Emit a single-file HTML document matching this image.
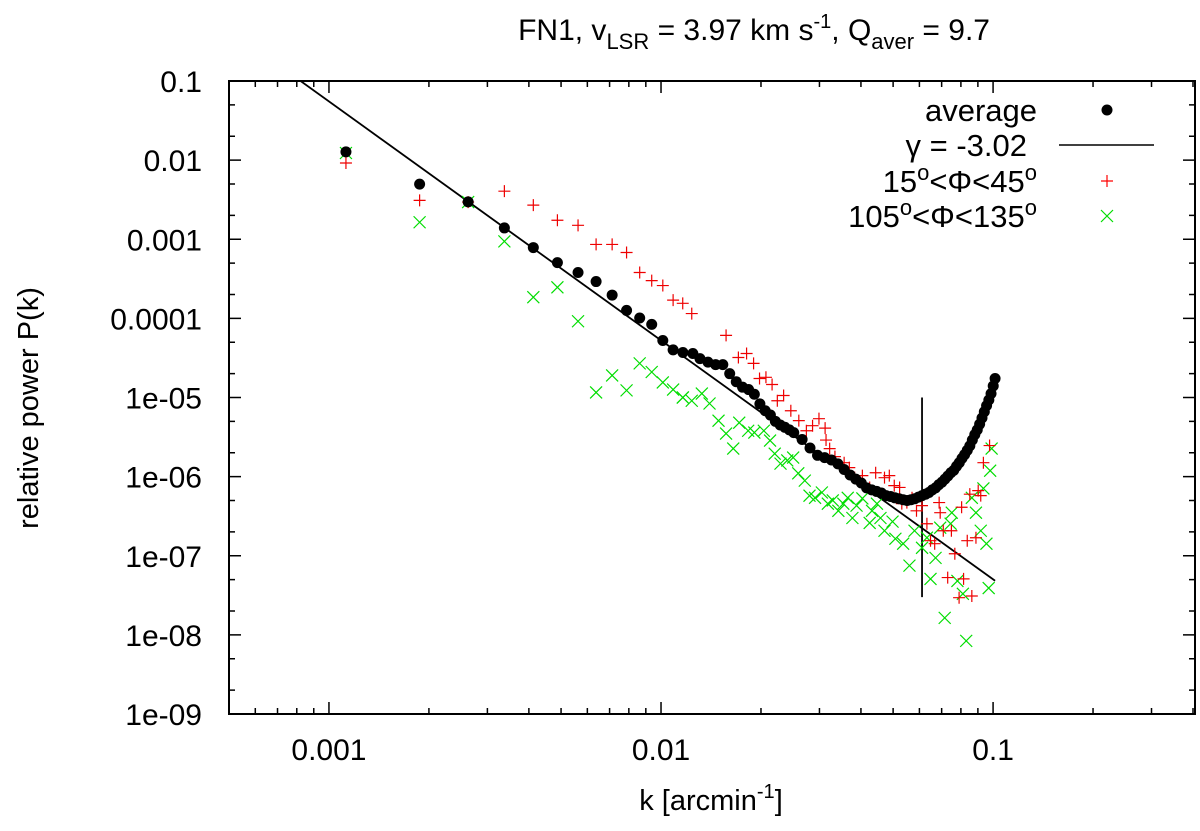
<!DOCTYPE html>
<html><head><meta charset="utf-8"><style>
html,body{margin:0;padding:0;background:#fff;}
svg text{font-family:"Liberation Sans",sans-serif;fill:#000;}
</style></head><body>
<svg id="chart" width="1200" height="826" viewBox="0 0 1200 826" xmlns="http://www.w3.org/2000/svg">
<defs><clipPath id="plotclip"><rect x="229" y="81" width="966" height="633"/></clipPath></defs>
<g id="axes"></g>
<g id="marks" clip-path="url(#plotclip)"></g>
<text x="990" y="40" text-anchor="end" font-size="30">FN1, v<tspan font-size="22" dy="9">LSR</tspan><tspan dy="-9"> = 3.97 km s</tspan><tspan font-size="20" dy="-12">-1</tspan><tspan dy="12">, Q</tspan><tspan font-size="22" dy="9">aver</tspan><tspan dy="-9"> = 9.7</tspan></text>
<text transform="translate(38,408) rotate(-90)" text-anchor="middle" font-size="29">relative power P(k)</text>
<text x="711" y="810" text-anchor="middle" font-size="29">k [arcmin<tspan font-size="20" dy="-12">-1</tspan><tspan dy="12">]</tspan></text>
<g font-size="31">
<text x="1037" y="121" text-anchor="end">average</text>
<circle cx="1107" cy="110" r="5.5" fill="#000"/>
<text x="1027" y="156" text-anchor="end">γ = -3.02</text>
<line x1="1059" y1="145" x2="1154" y2="145" stroke="#000" stroke-width="1.5"/>
<text x="1037" y="192" text-anchor="end">15<tspan font-size="22" dy="-12">o</tspan><tspan dy="12">&lt;Φ&lt;45</tspan><tspan font-size="22" dy="-12">o</tspan></text>
<path d="M1101 181H1113M1107 175V187" stroke="#f00" stroke-width="1.2"/>
<text x="1037" y="227" text-anchor="end">105<tspan font-size="22" dy="-12">o</tspan><tspan dy="12">&lt;Φ&lt;135</tspan><tspan font-size="22" dy="-12">o</tspan></text>
<path d="M1101 210L1113 222M1113 210L1101 222" stroke="#0d0" stroke-width="1.2"/>
</g>
</svg>
<script>
const NS="http://www.w3.org/2000/svg";
const xTickVals=[0.001,0.01,0.1];
const xTickLabels=["0.001","0.01","0.1"];
const yTickVals=[0.1,0.01,0.001,0.0001,1e-5,1e-6,1e-7,1e-8,1e-9];
const yTickLabels=["0.1","0.01","0.001","0.0001","1e-05","1e-06","1e-07","1e-08","1e-09"];
const xDomain=[0.0005,0.4];
const yDomain=[1e-9,0.1];
const avgK=[0.001125,0.001875,0.002625,0.003375,0.004125,0.004875,0.005625,0.006375,0.007125,0.007875,0.008625,0.009375,0.010125,0.010875,0.01164,0.01247,0.0131,0.01385,0.0146,0.01535,0.0161,0.01685,0.0176,0.01835,0.0191,0.01985,0.0206,0.02135,0.0221,0.02285,0.0236,0.02435,0.0251,0.0266,0.0281,0.0296,0.0311,0.0326,0.0341,0.0356,0.0371,0.0386,0.0401,0.0416,0.0431,0.0446,0.0461,0.0476,0.0491,0.0506,0.0521,0.0536,0.0551,0.0566,0.0581,0.0596,0.0611,0.0626,0.0641,0.0656,0.0671,0.0686,0.0701,0.0716,0.0731,0.0746,0.0761,0.0776,0.0791,0.0806,0.0821,0.0836,0.0851,0.0866,0.0881,0.0896,0.0911,0.0926,0.0941,0.0956,0.0971,0.0986,0.1001,0.1014];
const avgP=[0.0127,0.00497,0.00297,0.00139,7.85e-4,5.07e-4,3.8e-4,2.92e-4,1.97e-4,1.26e-4,1.01e-4,8.4e-5,5.25e-5,4.0e-5,3.7e-5,3.6e-5,3.1e-5,2.8e-5,2.6e-5,2.6e-5,2.0e-5,1.58e-5,1.35e-5,1.26e-5,1.1e-5,8.3e-6,6.8e-6,6.0e-6,5.0e-6,4.5e-6,4.2e-6,3.9e-6,3.6e-6,2.95e-6,2.3e-6,1.86e-6,1.74e-6,1.62e-6,1.45e-6,1.23e-6,1.05e-6,9.3e-7,8.3e-7,7.2e-7,6.8e-7,6.5e-7,6.2e-7,5.75e-7,5.6e-7,5.4e-7,5.25e-7,5.1e-7,5.0e-7,5.1e-7,5.25e-7,5.5e-7,5.75e-7,6.0e-7,6.3e-7,6.8e-7,7.2e-7,7.9e-7,8.5e-7,9.3e-7,1.02e-6,1.12e-6,1.2e-6,1.35e-6,1.5e-6,1.7e-6,1.9e-6,2.15e-6,2.45e-6,2.9e-6,3.4e-6,3.9e-6,4.6e-6,5.5e-6,6.6e-6,7.9e-6,9.3e-6,1.12e-5,1.4e-5,1.74e-5];
const redK=[0.001125,0.001875,0.002625,0.003375,0.004125,0.004875,0.005625,0.006375,0.007125,0.007875,0.008625,0.009375,0.010125,0.010875,0.011625,0.012375,0.0157,0.0171,0.0181,0.0190,0.0198,0.0207,0.0216,0.0224,0.0234,0.0246,0.0260,0.0274,0.0286,0.0299,0.0312,0.0314,0.0322,0.0334,0.0356,0.0369,0.0383,0.0404,0.0425,0.0443,0.0471,0.0487,0.0504,0.0523,0.0531,0.0550,0.0570,0.0588,0.0611,0.0632,0.0648,0.0667,0.0688,0.0693,0.0708,0.0730,0.0749,0.0767,0.0790,0.0804,0.0815,0.0836,0.0851,0.0863,0.0888,0.0902,0.0918,0.0935,0.0976];
const redP=[9.2e-3,3.1e-3,2.95e-3,4.05e-3,2.7e-3,1.74e-3,1.5e-3,8.6e-4,8.6e-4,6.8e-4,3.8e-4,3.0e-4,2.6e-4,1.7e-4,1.55e-4,1.15e-4,6.1e-5,3.2e-5,3.6e-5,2.7e-5,1.74e-5,1.8e-5,1.46e-5,9.1e-6,1.06e-5,6.8e-6,5.1e-6,3.8e-6,4.4e-6,5.4e-6,4.1e-6,2.9e-6,2.26e-6,1.79e-6,1.5e-6,1.3e-6,9.7e-7,1.03e-6,7.3e-7,1.12e-6,9.7e-7,1.03e-6,7.7e-7,7.3e-7,4.55e-7,4.7e-7,5.4e-7,3.7e-7,4.3e-7,2.54e-7,1.55e-7,1.42e-7,4.7e-7,3.5e-7,2.07e-7,5.3e-8,2.07e-7,1.06e-7,2.95e-8,4.1e-7,5.1e-8,1.55e-7,6.0e-7,3.1e-8,1.69e-7,6.65e-7,5.75e-7,1.5e-6,2.47e-6];
const grnK=[0.001125,0.001875,0.002625,0.003375,0.004125,0.004875,0.005625,0.006375,0.007125,0.007875,0.008625,0.009375,0.010125,0.010875,0.011625,0.012375,0.01164,0.01327,0.0140,0.0149,0.0157,0.0165,0.0172,0.0183,0.0191,0.0204,0.0213,0.0220,0.0229,0.0240,0.0250,0.0259,0.0271,0.0280,0.0291,0.0305,0.0318,0.0329,0.0342,0.0354,0.0365,0.0377,0.0388,0.0404,0.0425,0.0432,0.0447,0.0458,0.0471,0.0498,0.0508,0.0536,0.0560,0.0580,0.0611,0.0632,0.0648,0.0671,0.0693,0.0715,0.0745,0.0751,0.0781,0.0811,0.0830,0.0863,0.0888,0.0918,0.0935,0.0955,0.0970,0.0990,0.0980];
const grnP=[1.23e-2,1.64e-3,2.95e-3,9.4e-4,1.85e-4,2.47e-4,9.2e-5,1.16e-5,1.9e-5,1.23e-5,2.7e-5,2.1e-5,1.55e-5,1.26e-5,1.0e-5,9.1e-6,1.0e-5,1.12e-5,8.4e-6,5.1e-6,3.5e-6,2.26e-6,4.8e-6,3.8e-6,3.6e-6,3.8e-6,2.86e-6,1.95e-6,1.46e-6,1.6e-6,1.74e-6,1.1e-6,8.9e-7,5.75e-7,5.4e-7,6.3e-7,4.55e-7,5.0e-7,3.7e-7,4.55e-7,5.4e-7,3.0e-7,4.3e-7,5.3e-7,2.6e-7,3.7e-7,4.55e-7,3.0e-7,2.07e-7,2.7e-7,1.64e-7,1.42e-7,7.5e-8,2.07e-7,1.26e-7,1.69e-7,5.1e-8,9.4e-8,2.26e-7,1.64e-8,2.54e-7,3.5e-7,4.8e-8,3.3e-8,8.4e-9,5.4e-7,3.5e-7,2.07e-7,7.1e-7,1.42e-7,3.9e-8,2.26e-6,1.19e-6];
const fitGamma=-3.02;
const fitLogA=-10.318;
const fitRange=[0.0008,0.1014];
const cutK=[0.0611];
const cutRange=[3e-8,1e-5];

const X0=229,X1=1193,Y0=714,Y1=81;
function xs(k){return X0+(Math.log10(k)-Math.log10(xDomain[0]))/(Math.log10(xDomain[1])-Math.log10(xDomain[0]))*(X1-X0);}
function ys(p){return Y0-(Math.log10(p)-Math.log10(yDomain[0]))/(Math.log10(yDomain[1])-Math.log10(yDomain[0]))*(Y0-Y1);}
function mk(tag,attrs,parent){const e=document.createElementNS(NS,tag);for(const a in attrs)e.setAttribute(a,attrs[a]);parent.appendChild(e);return e;}
const axes=document.getElementById('axes');
const marks=document.getElementById('marks');
const frame=mk('rect',{x:229,y:81,width:966,height:633,fill:'none',stroke:'#000','stroke-width':2},axes);


let td='';
for(let e=-4;e<=-1;e++){for(let m=1;m<=9;m++){const v=m*Math.pow(10,e);if(v<xDomain[0]||v>xDomain[1])continue;const x=xs(v);const L=m===1?12:6;td+=`M${x} ${Y0}v${-L}M${x} ${Y1}v${L}`;}}
for(let e=-9;e<=-1;e++){[1,2,5].forEach(m=>{const v=m*Math.pow(10,e);if(v>yDomain[1]*1.0001)return;const y=ys(v);const L=m===1?12:6;td+=`M${X0} ${y}h${L}M1195 ${y}h${-L}`;});}
const ticks=mk('path',{d:td,stroke:'#000','stroke-width':1.5,fill:'none'},axes);


xTickVals.forEach((v,i)=>{const t=mk('text',{x:xs(v),y:760,'text-anchor':'middle','font-size':30},axes);t.textContent=xTickLabels[i];

});
yTickVals.forEach((v,i)=>{const t=mk('text',{x:202,y:ys(v)+11,'text-anchor':'end','font-size':30},axes);t.textContent=yTickLabels[i];

});
const fp=k=>Math.pow(10,fitLogA+fitGamma*Math.log10(k));
const fl=mk('line',{x1:xs(fitRange[0]),y1:ys(fp(fitRange[0])),x2:xs(fitRange[1]),y2:ys(fp(fitRange[1])),stroke:'#000','stroke-width':1.8},marks);


const cl=mk('line',{x1:xs(cutK[0]),y1:ys(cutRange[0]),x2:xs(cutK[0]),y2:ys(cutRange[1]),stroke:'#000','stroke-width':1.8},marks);


grnK.forEach((k,i)=>{const x=xs(k),y=ys(grnP[i]);const p=mk('path',{d:`M${x-6} ${y-6}L${x+6} ${y+6}M${x+6} ${y-6}L${x-6} ${y+6}`,stroke:'#00dd00','stroke-width':1.2},marks);

});
redK.forEach((k,i)=>{const x=xs(k),y=ys(redP[i]);const p=mk('path',{d:`M${x-6} ${y}H${x+6}M${x} ${y-6}V${y+6}`,stroke:'#ee0000','stroke-width':1.2},marks);

});
avgK.forEach((k,i)=>{const c=mk('circle',{cx:xs(k),cy:ys(avgP[i]),r:5.5,fill:'#000'},marks);

});
</script>
</body></html>
